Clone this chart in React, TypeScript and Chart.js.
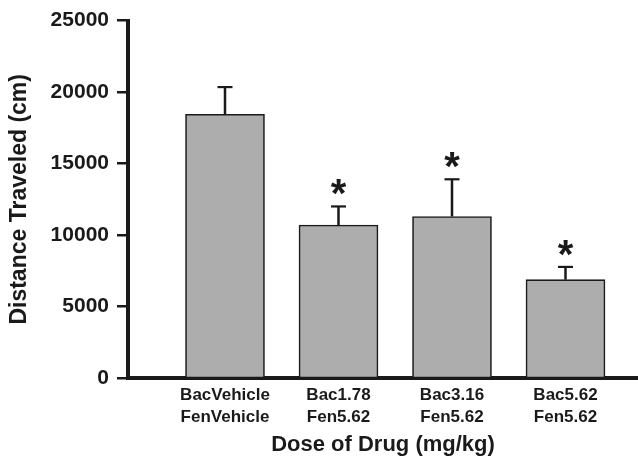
import React, { useEffect, useRef } from "react";
import { Chart, registerables } from "chart.js";

Chart.register(...registerables);

// ---- data ----
const categories: string[][] = [
  ["BacVehicle", "FenVehicle"],
  ["Bac1.78", "Fen5.62"],
  ["Bac3.16", "Fen5.62"],
  ["Bac5.62", "Fen5.62"],
];
const means: number[] = [18450, 10700, 11300, 6880];
const sem: number[] = [1900, 1300, 2600, 890];
const significant: boolean[] = [false, true, true, true];
const yTicks: number[] = [0, 5000, 10000, 15000, 20000, 25000];
const yTitle = "Distance Traveled (cm)";
const xTitle = "Dose of Drug (mg/kg)";

const FONT = '"Liberation Sans", Arial, sans-serif';
const INK = "#1a1a1a";

const errorBarPlugin = {
  id: "errorBars",
  afterDatasetsDraw(chart: any) {
    const { ctx } = chart;
    const yScale = chart.scales.y;
    const meta = chart.getDatasetMeta(0);
    ctx.save();
    meta.data.forEach((bar: any, i: number) => {
      const x = bar.x;
      const top = bar.y;
      const capY = yScale.getPixelForValue(means[i] + sem[i]);
      ctx.strokeStyle = INK;
      ctx.lineWidth = 2.5;
      ctx.beginPath();
      ctx.moveTo(x, top);
      ctx.lineTo(x, capY);
      ctx.stroke();
      ctx.lineWidth = 2.2;
      ctx.beginPath();
      ctx.moveTo(x - 7.5, capY);
      ctx.lineTo(x + 7.5, capY);
      ctx.stroke();
      if (significant[i]) {
        ctx.font = `bold 40px ${FONT}`;
        const m0 = ctx.measureText("*");
        const h0 = m0.actualBoundingBoxAscent + m0.actualBoundingBoxDescent;
        const size = (40 * 16) / (h0 || 16);
        ctx.font = `bold ${size}px ${FONT}`;
        const m = ctx.measureText("*");
        const centerY = capY - 19;
        const baseline =
          centerY + (m.actualBoundingBoxAscent - m.actualBoundingBoxDescent) / 2;
        ctx.fillStyle = INK;
        ctx.textAlign = "center";
        ctx.textBaseline = "alphabetic";
        ctx.fillText("*", x, baseline);
      }
    });
    ctx.restore();
  },
};

export default function App() {
  const canvasRef = useRef<HTMLCanvasElement | null>(null);

  useEffect(() => {
    if (!canvasRef.current) return;
    const chart = new Chart(canvasRef.current, {
      type: "bar",
      data: {
        datasets: [
          {
            data: means.map((v, i) => ({ x: i + 1, y: v })),
            backgroundColor: "#adadad",
            borderColor: INK,
            borderWidth: 1.6,
            barThickness: 79,
          },
        ],
      },
      options: {
        responsive: false,
        animation: false,
        layout: { padding: { top: 20, left: 0, right: 0, bottom: 0 } },
        plugins: {
          legend: { display: false },
          tooltip: { enabled: false },
        },
        scales: {
          x: {
            type: "linear",
            offset: false,
            min: 0.1454,
            max: 4.6388,
            afterBuildTicks: (scale: any) => {
              scale.ticks = categories.map((_, i) => ({ value: i + 1 }));
            },
            afterFit: (scale: any) => {
              scale.height = 81;
            },
            grid: { display: false, drawTicks: false, tickLength: 0, offset: false },
            border: { display: true, color: INK, width: 4 },
            ticks: {
              autoSkip: false,
              maxRotation: 0,
              padding: 6,
              color: INK,
              font: { family: FONT, size: 17, weight: "bold", lineHeight: 1.32 },
              callback: (v: any) => categories[Number(v) - 1] ?? "",
            },
            title: {
              display: true,
              text: xTitle,
              color: INK,
              font: { family: FONT, size: 22, weight: "bold", lineHeight: 1.2 },
              padding: { top: 0, bottom: 1 },
            },
          },
          y: {
            min: 0,
            max: 25000,
            afterBuildTicks: (scale: any) => {
              scale.ticks = yTicks.map((v) => ({ value: v }));
            },
            afterFit: (scale: any) => {
              scale.width = 128;
            },
            grid: {
              display: true,
              drawOnChartArea: false,
              drawTicks: true,
              tickLength: 11,
              tickWidth: 2.5,
              tickColor: INK,
              lineWidth: 2.5,
              color: INK,
            },
            border: { display: true, color: INK, width: 4 },
            ticks: {
              padding: 8,
              color: INK,
              font: { family: FONT, size: 21, weight: "bold" },
              callback: (v: any) => String(v),
            },
            title: {
              display: true,
              text: yTitle,
              color: INK,
              font: { family: FONT, size: 23, weight: "bold", lineHeight: 1.2 },
              padding: { top: 6, bottom: 0 },
            },
          },
        },
      },
      plugins: [errorBarPlugin],
    } as any);
    return () => chart.destroy();
  }, []);

  return (
    <div
      style={{
        position: "fixed",
        left: 0,
        top: 0,
        width: 638,
        height: 459,
        background: "#fff",
      }}
    >
      <canvas
        ref={canvasRef}
        width={638}
        height={459}
        style={{ display: "block", width: 638, height: 459 }}
      />
    </div>
  );
}
